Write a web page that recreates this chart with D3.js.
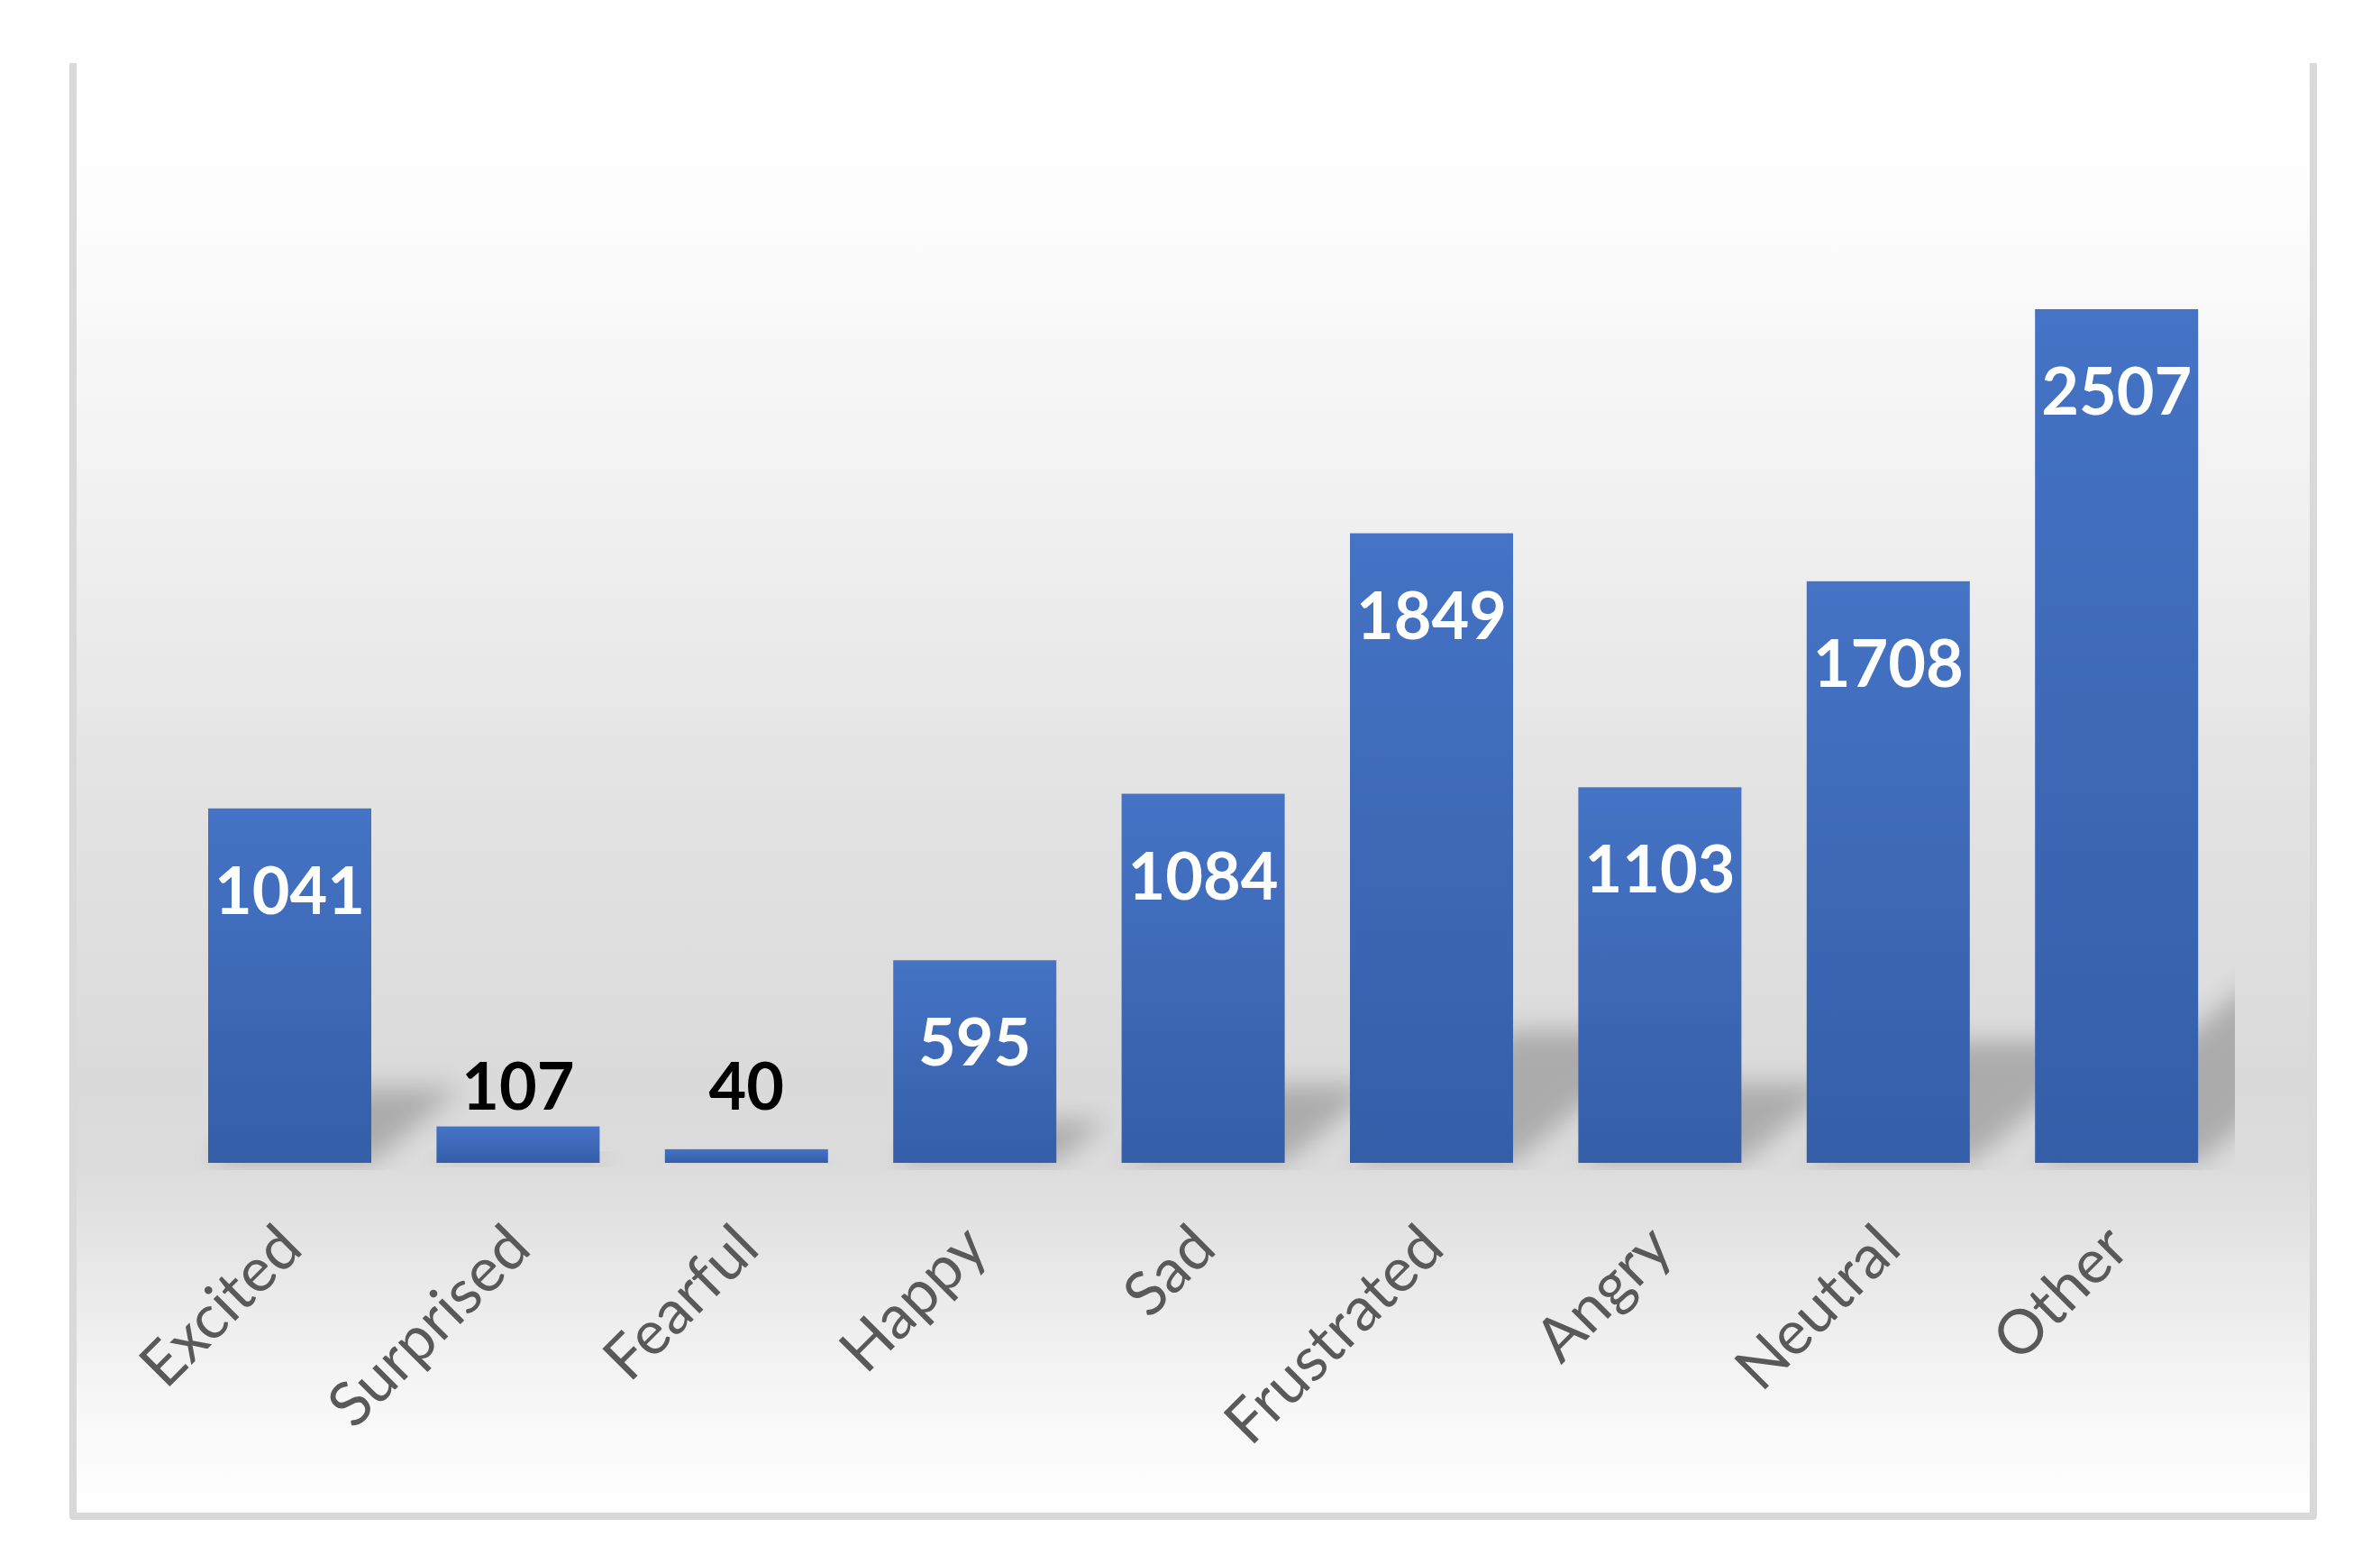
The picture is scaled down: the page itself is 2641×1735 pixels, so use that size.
<!DOCTYPE html>
<html>
<head>
<meta charset="utf-8">
<script src="https://cdn.jsdelivr.net/npm/d3@7"></script>
<style>
  body { margin: 0; background: #fff; }
  .value { font-family: Lato, "Open Sans", sans-serif; font-weight: bold; font-size: 72px; }
  .cat { font-family: Lato, "Open Sans", sans-serif; font-size: 68px; fill: #595959; }
</style>
</head>
<body>
<div id="plot"></div>
<script>
var emotions = ["Excited", "Surprised", "Fearful", "Happy", "Sad", "Frustrated", "Angry", "Neutral", "Other"];
var counts = [1041, 107, 40, 595, 1084, 1849, 1103, 1708, 2507];

var width = 2641, height = 1735;
var frame = { left: 81, right: 2567, top: 70, bottom: 1682 };
var baseline = 1290;

var svg = d3.select("div#plot")
  .append("svg")
    .attr("width", width)
    .attr("height", height);

var defs = svg.append("defs");

// chart area fill: white -> grey near the bars -> white
var bg = defs.append("linearGradient")
    .attr("id", "bgGrad")
    .attr("gradientUnits", "userSpaceOnUse")
    .attr("x1", 0).attr("y1", frame.top)
    .attr("x2", 0).attr("y2", frame.bottom);
[[0, "#ffffff"], [0.1, "#fdfdfd"], [0.3, "#f1f1f1"], [0.5, "#e3e3e3"],
 [0.7, "#dadada"], [0.76, "#dcdcdc"], [0.85, "#ebebeb"], [0.93, "#f8f8f8"], [1, "#ffffff"]]
  .forEach(function(s) {
    bg.append("stop").attr("offset", s[0]).attr("stop-color", s[1]);
  });

var barGrad = defs.append("linearGradient")
    .attr("id", "barGrad")
    .attr("x1", 0).attr("y1", 0)
    .attr("x2", 0).attr("y2", 1);
barGrad.append("stop").attr("offset", 0).attr("stop-color", "#4573c5");
barGrad.append("stop").attr("offset", 1).attr("stop-color", "#345ea8");

defs.append("filter")
    .attr("id", "blur")
    .attr("x", "-50%").attr("y", "-50%")
    .attr("width", "200%").attr("height", "200%")
  .append("feGaussianBlur")
    .attr("stdDeviation", 14);

defs.append("clipPath")
    .attr("id", "plotClip")
  .append("rect")
    .attr("x", frame.left + 4)
    .attr("y", frame.top)
    .attr("width", 2480 - frame.left - 4)
    .attr("height", baseline + 8 - frame.top);

svg.append("rect")
    .attr("x", frame.left)
    .attr("y", frame.top)
    .attr("width", frame.right - frame.left)
    .attr("height", frame.bottom - frame.top)
    .style("fill", "url(#bgGrad)");

svg.append("path")
    .attr("d", "M" + frame.left + "," + frame.top + "V" + frame.bottom + "H" + frame.right + "V" + frame.top)
    .style("fill", "none")
    .style("stroke", "#d9d9d9")
    .style("stroke-width", 8)
    .style("stroke-linejoin", "round");

var xscale = d3.scaleBand()
  .domain(emotions)
  .range([104.3, 2565.9])
  .paddingInner(0.2857)
  .paddingOuter(0.5);

var yscale = d3.scaleLinear()
  .domain([0, 3000])
  .range([baseline, baseline - 3000 * 0.37774]);

var data = emotions.map(function(e, i) { return { name: e, value: counts[i] }; });

// perspective shadow behind each bar
svg.append("g")
    .attr("clip-path", "url(#plotClip)")
  .selectAll("path.shadow")
  .data(data)
  .enter().append("path")
    .attr("class", "shadow")
    .attr("d", function(d) {
      var x0 = xscale(d.name), w = xscale.bandwidth();
      var h = (baseline - yscale(d.value)) * 0.21, dx = h * 1.2;
      return "M" + x0 + "," + baseline + "L" + (x0 + w) + "," + baseline +
        "L" + (x0 + w + dx) + "," + (baseline - h) + "L" + (x0 + dx) + "," + (baseline - h) + "Z";
    })
    .attr("filter", "url(#blur)")
    .style("fill", "#000")
    .style("opacity", 0.21);

svg.selectAll("rect.bar")
  .data(data)
  .enter().append("rect")
    .attr("class", "bar")
    .attr("x", function(d) { return xscale(d.name); })
    .attr("y", function(d) { return yscale(d.value); })
    .attr("width", xscale.bandwidth())
    .attr("height", function(d) { return baseline - yscale(d.value); })
    .style("fill", "url(#barGrad)");

function inside(d) { return baseline - yscale(d.value) > 130; }

svg.selectAll("text.value")
  .data(data)
  .enter().append("text")
    .attr("class", "value")
    .attr("text-anchor", "middle")
    .attr("x", function(d) { return xscale(d.name) + xscale.bandwidth() / 2; })
    .attr("y", function(d) {
      return inside(d) ? yscale(d.value) + 117 : Math.min(yscale(d.value), baseline - 40) - 19;
    })
    .style("fill", function(d) { return inside(d) ? "#ffffff" : "#000000"; })
    .text(function(d) { return d.value; });

svg.selectAll("text.cat")
  .data(emotions)
  .enter().append("text")
    .attr("class", "cat")
    .attr("text-anchor", "end")
    .attr("transform", function(d) {
      return "translate(" + (xscale(d) + xscale.bandwidth() / 2 + 17) + "," + (baseline + 98) + ") rotate(-45)";
    })
    .text(function(d) { return d; });
</script>
</body>
</html>
